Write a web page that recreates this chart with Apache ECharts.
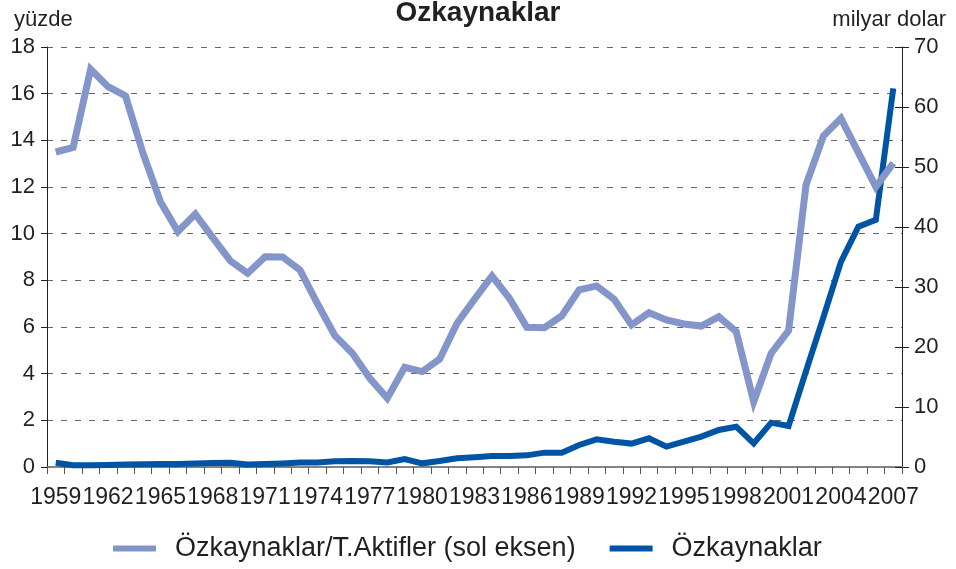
<!DOCTYPE html>
<html>
<head>
<meta charset="utf-8">
<script src="https://cdn.jsdelivr.net/npm/echarts@6/dist/echarts.min.js"></script>
<style>
  html, body { margin: 0; padding: 0; background: #fff; }
  #chart { width: 956px; height: 569px; }
</style>
</head>
<body>
<div id="chart"></div>
<script>
// Years on the x axis
const years = [];
for (let y = 1959; y <= 2007; y++) years.push(String(y));

// Özkaynaklar / T.Aktifler, percent (left axis)
const ratioValues = [
  13.5, 13.7, 17.05, 16.3, 15.9, 13.45, 11.37, 10.09, 10.84, 9.83,
  8.84, 8.3, 9.01, 9.0, 8.44, 7.0, 5.63, 4.87, 3.8, 2.95,
  4.27, 4.09, 4.62, 6.16, 7.19, 8.19, 7.23, 5.99, 5.97, 6.47,
  7.59, 7.76, 7.19, 6.09, 6.61, 6.3, 6.13, 6.04, 6.44, 5.8,
  2.8, 4.87, 5.84, 12.09, 14.19, 14.94, 13.47, 12.01, 13.02
];

// Özkaynaklar, billion dollars (right axis)
const equityValues = [
  0.72, 0.3, 0.3, 0.35, 0.4, 0.45, 0.5, 0.5, 0.6, 0.65,
  0.72, 0.4, 0.5, 0.6, 0.75, 0.75, 0.95, 1.0, 0.95, 0.75,
  1.33, 0.61, 1.0, 1.44, 1.61, 1.83, 1.83, 1.94, 2.39, 2.39,
  3.67, 4.61, 4.22, 3.9, 4.78, 3.39, 4.22, 5.06, 6.17, 6.72,
  3.94, 7.39, 6.83, 16.0, 25.0, 34.2, 40.05, 41.2, 63.1
];

const seriesNames = ['Özkaynaklar/T.Aktifler (sol eksen)', 'Özkaynaklar'];
const lightBlue = '#8395c9';
const darkBlue = '#0054a4';
const textColor = '#231f20';
const axisColor = '#555';
const fontFamily = 'Liberation Sans, Arial, sans-serif';

const chart = echarts.init(document.getElementById('chart'));

const option = {
  animation: false,
  textStyle: { fontFamily: fontFamily },
  title: [
    {
      text: 'Özkaynaklar',
      left: 'center',
      top: -6,
      textStyle: { fontSize: 28, fontWeight: 'bold', color: textColor, fontFamily: fontFamily }
    },
    {
      text: 'yüzde',
      left: 9,
      top: 4,
      textStyle: { fontSize: 22, fontWeight: 'normal', color: textColor, fontFamily: fontFamily }
    },
    {
      text: 'milyar dolar',
      right: 5,
      top: 4,
      textStyle: { fontSize: 22, fontWeight: 'normal', color: textColor, fontFamily: fontFamily }
    }
  ],
  legend: {
    bottom: 2,
    left: 108,
    itemWidth: 43,
    itemHeight: 6,
    itemGap: 34,
    icon: 'rect',
    data: seriesNames,
    textStyle: { fontSize: 27, color: textColor, fontFamily: fontFamily, padding: [0, 0, 0, 14] }
  },
  grid: { left: 47, right: 54, top: 47, bottom: 102 },
  xAxis: [
    {
      type: 'category',
      data: years,
      boundaryGap: true,
      axisLine: { lineStyle: { color: axisColor, width: 1.5 } },
      axisTick: { show: true, interval: 0, length: 7, lineStyle: { color: axisColor } },
      axisLabel: { interval: 2, fontSize: 23, color: textColor, margin: 19 },
      splitLine: { show: false }
    },
    {
      type: 'category',
      data: years,
      position: 'top',
      axisLine: { show: true, lineStyle: { color: '#888', width: 1.5 } },
      axisTick: { show: false },
      axisLabel: { show: false },
      splitLine: { show: false }
    }
  ],
  yAxis: [
    {
      type: 'value',
      min: 0,
      max: 18,
      interval: 2,
      position: 'left',
      axisLine: { show: true, lineStyle: { color: '#222' } },
      axisTick: { show: true, length: 6, lineStyle: { color: '#222' } },
      axisLabel: { fontSize: 22, color: textColor, margin: 12 },
      splitLine: { show: true, lineStyle: { color: '#666', type: [6, 8], width: 1 } }
    },
    {
      type: 'value',
      min: 0,
      max: 70,
      interval: 10,
      position: 'right',
      axisLine: { show: true, lineStyle: { color: '#222' } },
      axisTick: { show: true, length: 7, lineStyle: { color: '#222' } },
      axisLabel: { fontSize: 22, color: textColor, margin: 12 },
      splitLine: { show: false }
    },
    {
      type: 'value',
      min: 0,
      max: 70,
      interval: 10,
      position: 'right',
      axisLine: { show: false },
      axisTick: { show: true, inside: true, length: 7, lineStyle: { color: '#222' } },
      axisLabel: { show: false },
      splitLine: { show: false }
    }
  ],
  series: [
    {
      name: seriesNames[0],
      type: 'line',
      yAxisIndex: 0,
      data: ratioValues,
      symbol: 'none',
      z: 3,
      itemStyle: { color: lightBlue },
      lineStyle: { color: lightBlue, width: 7, join: 'miter' }
    },
    {
      name: seriesNames[1],
      type: 'line',
      yAxisIndex: 1,
      data: equityValues,
      symbol: 'none',
      z: 2,
      itemStyle: { color: darkBlue },
      lineStyle: { color: darkBlue, width: 6, join: 'miter' }
    }
  ]
};

chart.setOption(option);
</script>
</body>
</html>
